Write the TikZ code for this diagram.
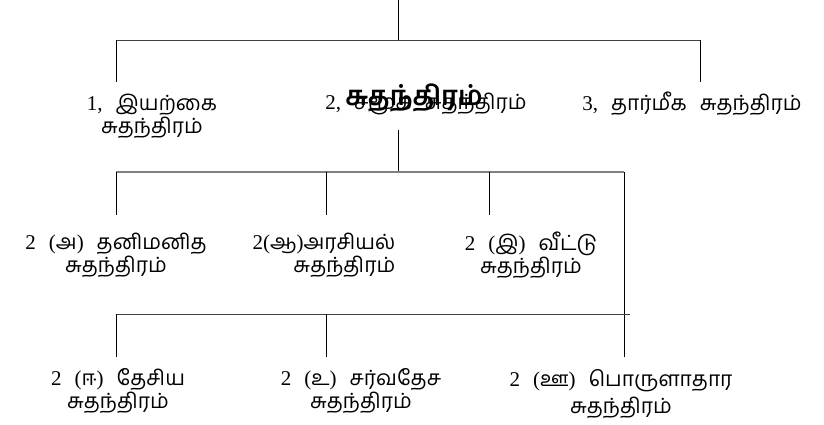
\documentclass[tikz,border=0pt]{standalone}
\usepackage{fontspec}
\setmainfont{Liberation Serif}
\newfontfamily\ta[Script=Tamil]{Hind Madurai}
\newcommand{\lbfont}{\fontsize{21}{23}\selectfont}
\newcommand{\T}[1]{{\ta #1}}
\begin{document}
\begin{tikzpicture}[x=1pt,y=-1pt,
  conn/.style={line width=0.7pt, black},
  bar/.style={line width=1.5pt, black!50},
  bar2/.style={line width=1pt, black!75},
  lbl/.style={inner sep=0pt, align=center, font=\lbfont},
  rootlbl/.style={inner sep=0pt, font=\fontsize{27}{29}\selectfont\ta\bfseries}]
\useasboundingbox (0,0) rectangle (824,424);
% labels
\node[lbl] (n1) at (152,116) {1,\hspace{13pt}\T{இயற்கை}\\\T{சுதந்திரம்}};
\node[lbl] (n2) at (426,104) {2,\hspace{13pt}\T{சமூக}\hspace{13pt}\T{சுதந்திரம்}};
\node[lbl] (n3) at (692,104) {3,\hspace{13pt}\T{தார்மீக}\hspace{13pt}\T{சுதந்திரம்}};
\node[rootlbl] (root) at (414,98) {சுதந்திரம்};
\node[lbl] (a) at (116,255) {2\hspace{13pt}(\T{அ})\hspace{13pt}\T{தனிமனித}\\\T{சுதந்திரம்}};
\node[lbl, align=right] (b) at (324,255) {2(\T{ஆ})\T{அரசியல்}\\\T{சுதந்திரம்}};
\node[lbl] (c) at (531,255) {2\hspace{13pt}(\T{இ})\hspace{13pt}\T{வீட்டு}\\\T{சுதந்திரம்}};
\node[lbl] (d) at (118,391) {2\hspace{13pt}(\T{ஈ})\hspace{13pt}\T{தேசிய}\\\T{சுதந்திரம்}};
\node[lbl] (e) at (361,391) {2\hspace{13pt}(\T{உ})\hspace{13pt}\T{சர்வதேச}\\\T{சுதந்திரம்}};
\node[lbl] (f) at (621,394) {2\hspace{13pt}(\T{ஊ})\hspace{13pt}\T{பொருளாதார}\\[4pt]\T{சுதந்திரம்}};
% coordinates
\coordinate (top) at (398,0);
\coordinate (j1) at (398,40);
\coordinate (l1) at (116,40);
\coordinate (r1) at (700,40);
\coordinate (l1e) at (116,82);
\coordinate (r1e) at (700,82);
\coordinate (m2) at (398,130);
\coordinate (j2) at (398,172);
\coordinate (l2) at (116,172);
\coordinate (r2) at (624,172);
\coordinate (b2) at (326,172);
\coordinate (c2) at (489,172);
\coordinate (l2e) at (116,215);
\coordinate (b2e) at (326,215);
\coordinate (c2e) at (489,215);
\coordinate (r2e) at (624,357);
\coordinate (l3) at (116,314);
\coordinate (e3) at (326,314);
\coordinate (r3) at (630,314);
\coordinate (l3e) at (116,357);
\coordinate (e3e) at (326,357);
% connectors
\draw[conn] (top) -- (j1);
\draw[bar2] (l1) -- (r1);
\draw[conn] (l1) -- (l1e);
\draw[conn] (r1) -- (r1e);
\draw[conn] (m2) -- (j2);
\draw[bar] (l2) -- (r2);
\draw[conn] (l2) -- (l2e);
\draw[conn] (b2) -- (b2e);
\draw[conn] (c2) -- (c2e);
\draw[conn] (r2) -- (r2e);
\draw[bar2] (l3) -- (r3);
\draw[conn] (l3) -- (l3e);
\draw[conn] (e3) -- (e3e);
\end{tikzpicture}
\end{document}
